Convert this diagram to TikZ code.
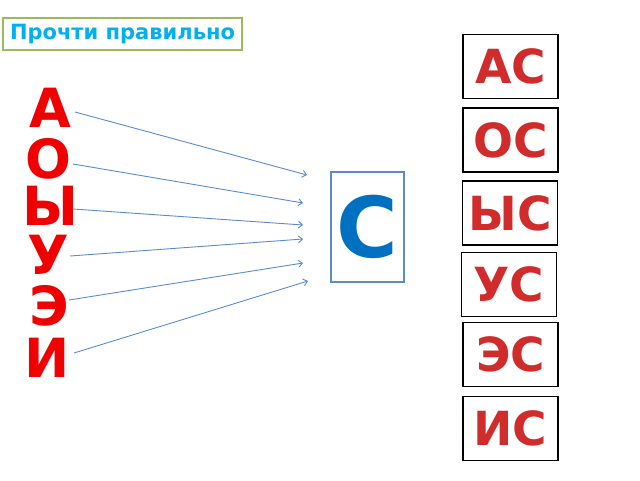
\documentclass[tikz,border=0pt]{standalone}
\usepackage{fontspec}
\setmainfont{DejaVu Sans}
\usetikzlibrary{arrows.meta}
\definecolor{G3}{RGB}{155,187,89}
\definecolor{C3}{RGB}{0,176,240}
\definecolor{R1}{RGB}{240,0,0}
\definecolor{R4}{RGB}{208,44,44}
\definecolor{B4}{RGB}{90,140,205}
\definecolor{B2}{RGB}{0,112,192}
\tikzset{
  vowel/.style={text=R1, font=\fontsize{54}{54}\selectfont\bfseries, inner sep=0pt},
  pair/.style={draw=black, line width=1.6pt, text=R4, font=\fontsize{47}{47}\selectfont\bfseries,
               minimum width=95pt, minimum height=64pt, inner sep=0pt},
  link/.style={B4, line width=0.9pt, -{Straight Barb[length=4pt,width=7pt]}}
}

\begin{document}
\begin{tikzpicture}[x=1pt, y=-1pt]
      \useasboundingbox (0,0) rectangle (640,480);
      \node[draw=G3, line width=1.5pt, text=C3, font=\fontsize{21}{21}\selectfont\bfseries,
            minimum width=239pt, minimum height=32pt, inner sep=0pt] (title) at (122.5,34) {Прочти правильно};
      \node[vowel] (a) at (50.5,107.5) {А};
      \node[vowel] (o) at (48,158.5) {О};
      \node[vowel] (y) at (50,206) {Ы};
      \node[vowel] (u) at (48.5,255) {У};
      \node[vowel] (e) at (49,306) {Э};
      \node[vowel] (i) at (47.5,357.5) {И};
      \node[draw=B4, line width=1.2pt, text=B2, font=\fontsize{84}{84}\selectfont\bfseries,
            minimum width=73pt, minimum height=110pt, inner sep=0pt] (s) at (367.5,227) {С};
      \node[pair] (as) at (510.5,66.5) {АС};
      \node[pair] (os) at (510.5,140) {ОС};
      \node[pair] (ys) at (510,213) {ЫС};
      \node[pair] (us) at (509,284.5) {УС};
      \node[pair] (es) at (510.5,354.5) {ЭС};
      \node[pair] (is) at (510.5,428.5) {ИС};
      \coordinate (a0) at (75,112);  \coordinate (a1) at (307,175);
      \coordinate (o0) at (73,164);  \coordinate (o1) at (303,203);
      \coordinate (y0) at (73,209);  \coordinate (y1) at (303,225);
      \coordinate (u0) at (70,256);  \coordinate (u1) at (303,239);
      \coordinate (e0) at (69,300);  \coordinate (e1) at (303,263);
      \coordinate (i0) at (74,353);  \coordinate (i1) at (308,281);
      \draw[link] (a0) -- (a1);
      \draw[link] (o0) -- (o1);
      \draw[link] (y0) -- (y1);
      \draw[link] (u0) -- (u1);
      \draw[link] (e0) -- (e1);
      \draw[link] (i0) -- (i1);
\end{tikzpicture}
\end{document}
